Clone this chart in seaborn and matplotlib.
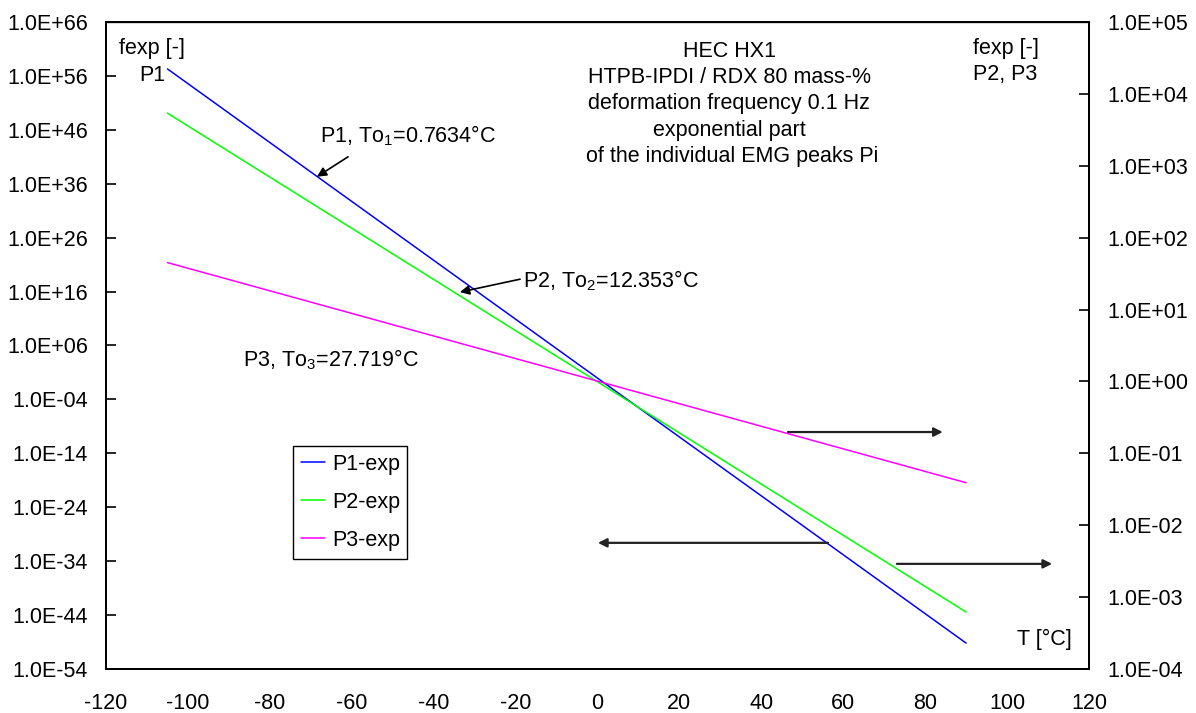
import numpy as np
import pandas as pd
import matplotlib
matplotlib.use("Agg")
import matplotlib.pyplot as plt
from matplotlib.ticker import FixedLocator, NullLocator
import seaborn as sns

# ---------------- data ----------------
temperature = [-105.0, 90.0]          # T [°C]
p1_exp = [2.0e57, 6.3e-50]            # left axis
p2_exp = [5.4e3, 6.2e-4]              # right axis
p3_exp = [4.5e1, 3.9e-2]              # right axis
series_names = ["P1-exp", "P2-exp", "P3-exp"]
series_colors = ["#0000FF", "#00FF00", "#FF00FF"]
x_ticks = list(range(-120, 121, 20))
left_exponents = list(range(-54, 67, 10))
right_exponents = list(range(-4, 6))
title_lines = ["HEC HX1", "HTPB-IPDI / RDX 80 mass-%", "deformation frequency 0.1 Hz",
               "exponential part", " of the individual EMG peaks Pi"]

sns.set_theme(style="white")
plt.rcParams["font.family"] = ["Liberation Sans", "DejaVu Sans"]
plt.rcParams["mathtext.fontset"] = "custom"
plt.rcParams["mathtext.rm"] = "Liberation Sans"
plt.rcParams["mathtext.it"] = "Liberation Sans:italic"
plt.rcParams["mathtext.bf"] = "Liberation Sans:bold"
for k in ("text.color", "axes.labelcolor", "xtick.color", "ytick.color"):
    plt.rcParams[k] = "black"
FS = 15.5

W, H = 1196, 713
fig = plt.figure(figsize=(W / 100, H / 100), dpi=100)
fig.patch.set_facecolor("white")
L, R, T, B = 106, 1089, 22, 669
ax = fig.add_axes([L / W, 1 - B / H, (R - L) / W, (B - T) / H])
ax2 = ax.twinx()

df1 = pd.DataFrame({"T": temperature, "fexp": p1_exp})
df2 = pd.DataFrame({"T": temperature, "fexp": p2_exp})
df3 = pd.DataFrame({"T": temperature, "fexp": p3_exp})

ax.set_yscale("log")
ax2.set_yscale("log")
sns.lineplot(data=df1, x="T", y="fexp", ax=ax, color=series_colors[0], lw=1.1,
             label=series_names[0], legend=False)
sns.lineplot(data=df2, x="T", y="fexp", ax=ax2, color=series_colors[1], lw=1.1,
             label=series_names[1], legend=False)
sns.lineplot(data=df3, x="T", y="fexp", ax=ax2, color=series_colors[2], lw=1.1,
             label=series_names[2], legend=False)

ax.set_xlim(-120, 120)
ax.set_ylim(10.0 ** left_exponents[0], 10.0 ** left_exponents[-1])
ax2.set_ylim(10.0 ** right_exponents[0], 10.0 ** right_exponents[-1])

ax.set_xticks(x_ticks)
ax.set_xticklabels([str(v) for v in x_ticks], fontsize=FS)
ax.yaxis.set_major_locator(FixedLocator([10.0 ** e for e in left_exponents]))
ax.yaxis.set_minor_locator(NullLocator())
ax.set_yticklabels([f"1.0E{e:+03d}" for e in left_exponents], fontsize=FS)
ax2.yaxis.set_major_locator(FixedLocator([10.0 ** e for e in right_exponents]))
ax2.yaxis.set_minor_locator(NullLocator())
ax2.set_yticklabels([f"1.0E{e:+03d}" for e in right_exponents], fontsize=FS)

ax.set_xlabel("")
ax.set_ylabel("")
ax2.set_ylabel("")
ax.tick_params(axis="x", direction="in", length=7, width=1.2, pad=17, colors="black")
ax.tick_params(axis="y", direction="in", length=7, width=1.2, pad=13, colors="black")
ax2.tick_params(axis="y", direction="in", length=7, width=1.2, pad=13, colors="black")
for a in (ax, ax2):
    for side, sp in a.spines.items():
        sp.set_color("black")
        sp.set_linewidth(1.4)
    a.grid(False)
ax.spines["top"].set_linewidth(1.0)
ax.spines["top"].set_color("#333333")

# ---------------- texts ----------------
tkw = dict(fontsize=FS, color="black")
ax.text(-116.8, 10 ** 61.1, "fexp [-]", ha="left", va="center", **tkw)
ax.text(-105.6, 10 ** 56.0, "P1", ha="right", va="center", **tkw)
ax.text(91.7, 10 ** 61.1, "fexp [-]", ha="left", va="center", **tkw)
ax.text(91.7, 10 ** 56.3, "P2, P3", ha="left", va="center", **tkw)
ax.text(32.2, 10 ** 50.8, "\n".join(title_lines), ha="center", va="center",
        multialignment="center", linespacing=1.34, **tkw)
ax.text(115.8, 10 ** -48.6, "T [°C]", ha="right", va="center", **tkw)

ax.text(-67.8, 10 ** 44.85, r"P1, To$_\mathrm{1}$=0.7634°C", ha="left", va="center", **tkw)
ax.text(-18.2, 10 ** 17.96, r"P2, To$_\mathrm{2}$=12.353°C", ha="left", va="center", **tkw)
ax.text(-86.6, 10 ** 3.3, r"P3, To$_\mathrm{3}$=27.719°C", ha="left", va="center", **tkw)

akw = dict(arrowstyle="-|>", color="black", lw=1.2, mutation_scale=14, shrinkA=0, shrinkB=0)
ax.annotate("", xy=(-68.5, 10 ** 37.3), xytext=(-60.9, 10 ** 41.0), arrowprops=akw)
ax.annotate("", xy=(-33.6, 10 ** 15.9), xytext=(-18.9, 10 ** 18.3), arrowprops=akw)

hkw = dict(arrowstyle="-|>", color="#222222", lw=1.6, mutation_scale=13, shrinkA=0, shrinkB=0)
ax.annotate("", xy=(84.3, 10 ** -10.05), xytext=(46.5, 10 ** -10.05), arrowprops=hkw)
ax.annotate("", xy=(0.1, 10 ** -30.6), xytext=(56.3, 10 ** -30.6), arrowprops=hkw)
ax.annotate("", xy=(111.0, 10 ** -34.5), xytext=(73.1, 10 ** -34.5), arrowprops=hkw)

# ---------------- legend ----------------
h1, l1 = ax.get_legend_handles_labels()
h2, l2 = ax2.get_legend_handles_labels()
leg = ax2.legend(h1 + h2, l1 + l2, loc="upper left",
                 bbox_to_anchor=(293 / W, 1 - 446 / H), bbox_transform=fig.transFigure,
                 fontsize=FS, frameon=True, fancybox=False, shadow=False, framealpha=1,
                 edgecolor="black", borderpad=0.35, handlelength=1.15, handletextpad=0.3,
                 labelspacing=0.8, borderaxespad=0)
leg.get_frame().set_linewidth(1.0)
for t in leg.get_texts():
    t.set_color("black")

fig.savefig("out.png", dpi=100, facecolor="white")
